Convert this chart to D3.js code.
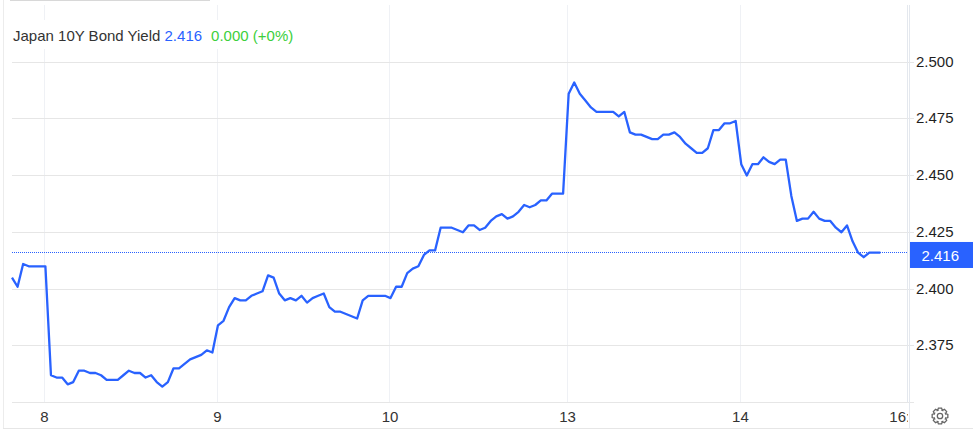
<!DOCTYPE html>
<html><head><meta charset="utf-8">
<script src="https://cdn.jsdelivr.net/npm/d3@7/dist/d3.min.js"></script>
<style>html,body{margin:0;padding:0;background:#fff;overflow:hidden}svg{display:block}text{font-family:"Liberation Sans",Arial,sans-serif}</style>
</head><body><svg id="c" width="973" height="430"></svg>
<script>
const title = "Japan 10Y Bond Yield";
const lastValue = 2.416;
const lastText = "2.416";
const changeText = "0.000 (+0%)";
const yTicks = [2.375, 2.4, 2.425, 2.45, 2.475, 2.5];
const dayLabels = ["8", "9", "10", "13", "14", "16:"];
const dayPositions = [5.84, 36.9, 67.9, 99.8, 130.85, 157.6];
const yields = [
2.405,2.401,2.411,2.410,2.410,2.410,2.410,2.362,2.361,2.361,2.358,2.359,2.364,2.364,2.363,2.363,2.362,2.360,2.360,2.360,
2.362,2.364,2.363,2.363,2.361,2.362,2.359,2.357,2.359,2.365,2.365,2.367,2.369,2.370,2.371,2.373,2.372,2.384,2.386,2.392,
2.396,2.395,2.395,2.397,2.398,2.399,2.406,2.405,2.398,2.395,2.396,2.395,2.397,2.394,2.396,2.397,2.398,2.392,2.390,2.390,
2.389,2.388,2.387,2.395,2.397,2.397,2.397,2.397,2.396,2.401,2.401,2.407,2.409,2.410,2.415,2.417,2.417,2.427,2.427,2.427,
2.426,2.425,2.428,2.428,2.426,2.427,2.430,2.432,2.433,2.431,2.432,2.434,2.437,2.436,2.437,2.439,2.439,2.442,2.442,2.442,
2.486,2.491,2.486,2.483,2.480,2.478,2.478,2.478,2.478,2.476,2.478,2.469,2.468,2.468,2.467,2.466,2.466,2.468,2.468,2.469,
2.467,2.464,2.462,2.460,2.460,2.462,2.470,2.470,2.473,2.473,2.474,2.455,2.450,2.455,2.455,2.458,2.456,2.455,2.457,2.457,
2.441,2.430,2.431,2.431,2.434,2.431,2.430,2.430,2.427,2.425,2.428,2.421,2.416,2.414,2.416,2.416,2.416];

const svg = d3.select("#c");
const x = d3.scaleLinear().domain([0, yields.length - 1]).range([12, 880.4]);
const y = d3.scaleLinear().domain([2.375, 2.5]).range([345.75, 62]);
const BLUE = "#2962ff", GRID = "#e6e6e6", VGRID = "#eff1f5", AXIS = "#e4e8ee", plotRight = 908, plotBottom = 402.5, axisX = 909.5;
const crisp = v => Math.floor(v) + .5;

// page frame
svg.append("line").attr("x1",3.5).attr("x2",3.5).attr("y1",0).attr("y2",428).attr("stroke","#ececec");
svg.append("line").attr("x1",10).attr("x2",210).attr("y1",0.5).attr("y2",0.5).attr("stroke","#d8d8d8");
svg.append("line").attr("x1",3).attr("x2",973).attr("y1",428.5).attr("y2",428.5).attr("stroke","#e6e6e6");

// vertical grid
svg.append("g").selectAll("line").data(dayPositions.slice(0,5)).join("line")
  .attr("x1",d=>crisp(x(d))).attr("x2",d=>crisp(x(d)))
  .attr("y1",5).attr("y2",plotBottom).attr("stroke",VGRID);

// horizontal grid
svg.append("g").selectAll("line").data(yTicks).join("line")
  .attr("x1",12).attr("x2",914).attr("y1",d=>crisp(y(d))).attr("y2",d=>crisp(y(d)))
  .attr("stroke",GRID);
svg.append("line").attr("x1",12).attr("x2",914).attr("y1",plotBottom).attr("y2",plotBottom).attr("stroke",GRID);

// right edges
svg.append("line").attr("x1",plotRight-.5).attr("x2",plotRight-.5).attr("y1",5).attr("y2",plotBottom).attr("stroke",AXIS);
svg.append("line").attr("x1",axisX).attr("x2",axisX).attr("y1",5).attr("y2",428).attr("stroke",AXIS);

// legend backing gap + legend
svg.append("rect").attr("x",5).attr("y",20).attr("width",300).attr("height",29).attr("fill","#fff");
const leg = svg.append("text").attr("x",13).attr("y",40.5).attr("font-size",15);
leg.append("tspan").attr("fill","#333").text(title+" ");
leg.append("tspan").attr("fill",BLUE).text(lastText);
leg.append("tspan").attr("fill","#3ccf3c").attr("dx",9).text(changeText);

// last price line
svg.append("line").attr("x1",12).attr("x2",plotRight).attr("y1",crisp(y(lastValue))).attr("y2",crisp(y(lastValue)))
  .attr("stroke",BLUE).attr("stroke-dasharray","1 1").attr("shape-rendering","crispEdges");

// series
svg.append("path").datum(yields)
  .attr("d",d3.line().x((d,i)=>x(i)).y(d=>y(d)))
  .attr("fill","none").attr("stroke",BLUE).attr("stroke-width",2.3).attr("stroke-linejoin","round");

// y labels
svg.append("g").selectAll("text").data(yTicks).join("text")
  .attr("x",916).attr("y",d=>y(d)+4.7).attr("font-size",15).attr("fill","#1f1f1f").text(d=>d3.format(".3f")(d));

// current value tag
svg.append("rect").attr("x",910).attr("y",y(lastValue)-10.7).attr("width",63).attr("height",26).attr("fill",BLUE);
svg.append("text").attr("x",921.5).attr("y",y(lastValue)+8.3).attr("font-size",15).attr("fill","#fff").text(lastText);

// x labels, clipped at the axis column
svg.append("clipPath").attr("id","xc").append("rect").attr("x",0).attr("y",403).attr("width",908).attr("height",25);
svg.append("g").attr("clip-path","url(#xc)").selectAll("text").data(dayLabels).join("text")
  .attr("x",(d,i)=>x(dayPositions[i])).attr("y",422).attr("text-anchor",(d,i)=>i==5?"start":"middle")
  .attr("font-size",15).attr("fill","#333").text(d=>d);

// gear icon
const gear = svg.append("g").attr("transform","translate(940,416)").attr("fill","none").attr("stroke","#666").attr("stroke-width",1.3);
const gearPts = [];
d3.range(8).forEach(k=>{
  const c = k*Math.PI/4 - Math.PI/2;
  [[-.40,6],[-.20,8],[.20,8],[.40,6]].forEach(([da,r])=>gearPts.push([r*Math.cos(c+da),r*Math.sin(c+da)]));
});
gear.append("path").attr("d",d3.line().curve(d3.curveLinearClosed)(gearPts));
gear.append("circle").attr("r",2.7);
</script></body></html>
